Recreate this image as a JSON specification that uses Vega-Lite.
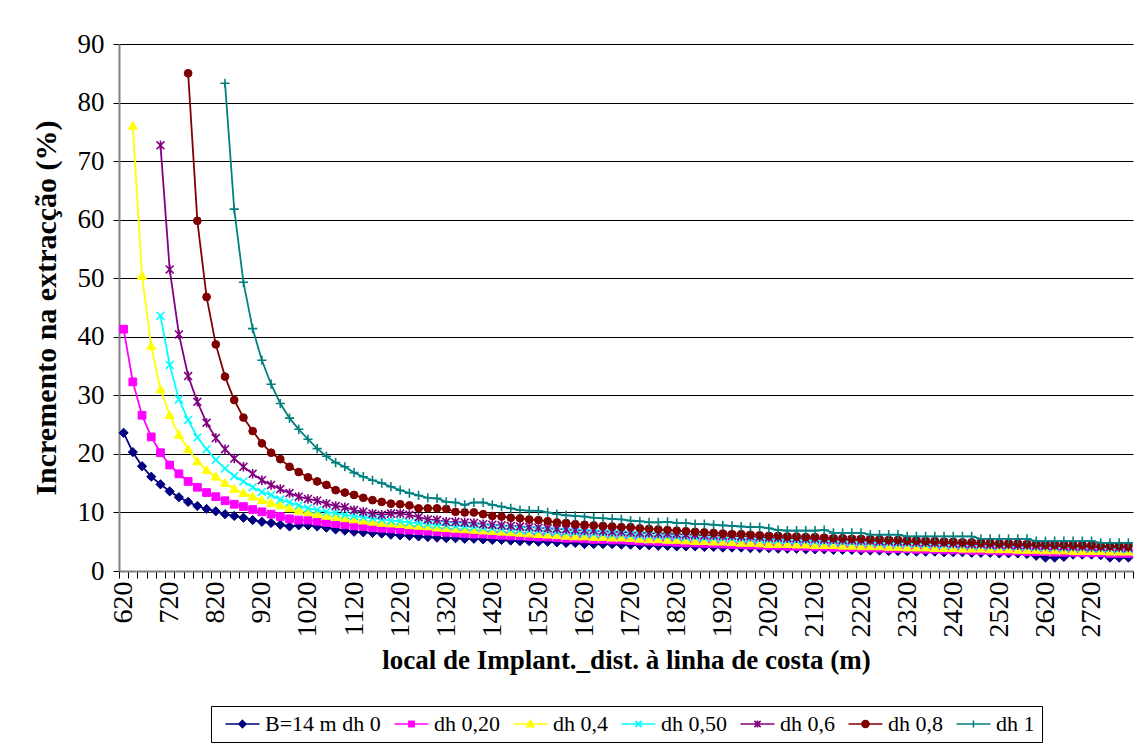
{
"$schema": "https://vega.github.io/schema/vega-lite/v6.json",
"width": 1014, "height": 527,
"autosize": "none",
"padding": {"left": 119, "top": 44, "right": 7, "bottom": 176},
"background": "white",
"config": {"view": {"stroke": null}, "font": "Liberation Serif",
  "axis": {"labelFont": "Liberation Serif", "titleFont": "Liberation Serif", "labelColor": "#000", "titleColor": "#000"},
  "legend": {"labelFont": "Liberation Serif"}},
"datasets": {"d": [
{"s":"B=14 m dh 0","x":620,"v":23.6},{"s":"B=14 m dh 0","x":640,"v":20.3},{"s":"B=14 m dh 0","x":660,"v":17.9},{"s":"B=14 m dh 0","x":680,"v":16.1},{"s":"B=14 m dh 0","x":700,"v":14.8},{"s":"B=14 m dh 0","x":720,"v":13.6},{"s":"B=14 m dh 0","x":740,"v":12.6},{"s":"B=14 m dh 0","x":760,"v":11.8},{"s":"B=14 m dh 0","x":780,"v":11.1},{"s":"B=14 m dh 0","x":800,"v":10.6},{"s":"B=14 m dh 0","x":820,"v":10.2},{"s":"B=14 m dh 0","x":840,"v":9.7},{"s":"B=14 m dh 0","x":860,"v":9.4},{"s":"B=14 m dh 0","x":880,"v":9.1},{"s":"B=14 m dh 0","x":900,"v":8.7},{"s":"B=14 m dh 0","x":920,"v":8.4},{"s":"B=14 m dh 0","x":940,"v":8.2},{"s":"B=14 m dh 0","x":960,"v":7.9},{"s":"B=14 m dh 0","x":980,"v":7.6},{"s":"B=14 m dh 0","x":1000,"v":7.8},{"s":"B=14 m dh 0","x":1020,"v":7.8},{"s":"B=14 m dh 0","x":1040,"v":7.6},{"s":"B=14 m dh 0","x":1060,"v":7.4},{"s":"B=14 m dh 0","x":1080,"v":7.1},{"s":"B=14 m dh 0","x":1100,"v":6.9},{"s":"B=14 m dh 0","x":1120,"v":6.7},{"s":"B=14 m dh 0","x":1140,"v":6.6},{"s":"B=14 m dh 0","x":1160,"v":6.5},{"s":"B=14 m dh 0","x":1180,"v":6.4},{"s":"B=14 m dh 0","x":1200,"v":6.2},{"s":"B=14 m dh 0","x":1220,"v":6.1},{"s":"B=14 m dh 0","x":1240,"v":6.0},{"s":"B=14 m dh 0","x":1260,"v":5.9},{"s":"B=14 m dh 0","x":1280,"v":5.8},{"s":"B=14 m dh 0","x":1300,"v":5.7},{"s":"B=14 m dh 0","x":1320,"v":5.6},{"s":"B=14 m dh 0","x":1340,"v":5.6},{"s":"B=14 m dh 0","x":1360,"v":5.5},{"s":"B=14 m dh 0","x":1380,"v":5.5},{"s":"B=14 m dh 0","x":1400,"v":5.4},{"s":"B=14 m dh 0","x":1420,"v":5.3},{"s":"B=14 m dh 0","x":1440,"v":5.3},{"s":"B=14 m dh 0","x":1460,"v":5.2},{"s":"B=14 m dh 0","x":1480,"v":5.1},{"s":"B=14 m dh 0","x":1500,"v":5.1},{"s":"B=14 m dh 0","x":1520,"v":5.0},{"s":"B=14 m dh 0","x":1540,"v":5.0},{"s":"B=14 m dh 0","x":1560,"v":4.9},{"s":"B=14 m dh 0","x":1580,"v":4.8},{"s":"B=14 m dh 0","x":1600,"v":4.8},{"s":"B=14 m dh 0","x":1620,"v":4.6},{"s":"B=14 m dh 0","x":1640,"v":4.6},{"s":"B=14 m dh 0","x":1660,"v":4.6},{"s":"B=14 m dh 0","x":1680,"v":4.6},{"s":"B=14 m dh 0","x":1700,"v":4.5},{"s":"B=14 m dh 0","x":1720,"v":4.5},{"s":"B=14 m dh 0","x":1740,"v":4.4},{"s":"B=14 m dh 0","x":1760,"v":4.4},{"s":"B=14 m dh 0","x":1780,"v":4.3},{"s":"B=14 m dh 0","x":1800,"v":4.3},{"s":"B=14 m dh 0","x":1820,"v":4.2},{"s":"B=14 m dh 0","x":1840,"v":4.2},{"s":"B=14 m dh 0","x":1860,"v":4.2},{"s":"B=14 m dh 0","x":1880,"v":4.1},{"s":"B=14 m dh 0","x":1900,"v":4.1},{"s":"B=14 m dh 0","x":1920,"v":4.0},{"s":"B=14 m dh 0","x":1940,"v":4.0},{"s":"B=14 m dh 0","x":1960,"v":4.0},{"s":"B=14 m dh 0","x":1980,"v":3.9},{"s":"B=14 m dh 0","x":2000,"v":3.9},{"s":"B=14 m dh 0","x":2020,"v":3.9},{"s":"B=14 m dh 0","x":2040,"v":3.8},{"s":"B=14 m dh 0","x":2060,"v":3.8},{"s":"B=14 m dh 0","x":2080,"v":3.8},{"s":"B=14 m dh 0","x":2100,"v":3.7},{"s":"B=14 m dh 0","x":2120,"v":3.7},{"s":"B=14 m dh 0","x":2140,"v":3.7},{"s":"B=14 m dh 0","x":2160,"v":3.6},{"s":"B=14 m dh 0","x":2180,"v":3.6},{"s":"B=14 m dh 0","x":2200,"v":3.6},{"s":"B=14 m dh 0","x":2220,"v":3.5},{"s":"B=14 m dh 0","x":2240,"v":3.5},{"s":"B=14 m dh 0","x":2260,"v":3.5},{"s":"B=14 m dh 0","x":2280,"v":3.4},{"s":"B=14 m dh 0","x":2300,"v":3.4},{"s":"B=14 m dh 0","x":2320,"v":3.4},{"s":"B=14 m dh 0","x":2340,"v":3.3},{"s":"B=14 m dh 0","x":2360,"v":3.3},{"s":"B=14 m dh 0","x":2380,"v":3.3},{"s":"B=14 m dh 0","x":2400,"v":3.2},{"s":"B=14 m dh 0","x":2420,"v":3.2},{"s":"B=14 m dh 0","x":2440,"v":3.2},{"s":"B=14 m dh 0","x":2460,"v":3.1},{"s":"B=14 m dh 0","x":2480,"v":3.1},{"s":"B=14 m dh 0","x":2500,"v":3.1},{"s":"B=14 m dh 0","x":2520,"v":3.0},{"s":"B=14 m dh 0","x":2540,"v":3.0},{"s":"B=14 m dh 0","x":2560,"v":3.0},{"s":"B=14 m dh 0","x":2580,"v":2.9},{"s":"B=14 m dh 0","x":2600,"v":2.6},{"s":"B=14 m dh 0","x":2620,"v":2.3},{"s":"B=14 m dh 0","x":2640,"v":2.3},{"s":"B=14 m dh 0","x":2660,"v":2.4},{"s":"B=14 m dh 0","x":2680,"v":2.8},{"s":"B=14 m dh 0","x":2700,"v":2.8},{"s":"B=14 m dh 0","x":2720,"v":2.8},{"s":"B=14 m dh 0","x":2740,"v":2.7},{"s":"B=14 m dh 0","x":2760,"v":2.3},{"s":"B=14 m dh 0","x":2780,"v":2.3},{"s":"B=14 m dh 0","x":2800,"v":2.3},
{"s":"dh 0,20","x":620,"v":41.3},{"s":"dh 0,20","x":640,"v":32.3},{"s":"dh 0,20","x":660,"v":26.6},{"s":"dh 0,20","x":680,"v":22.9},{"s":"dh 0,20","x":700,"v":20.2},{"s":"dh 0,20","x":720,"v":18.1},{"s":"dh 0,20","x":740,"v":16.6},{"s":"dh 0,20","x":760,"v":15.3},{"s":"dh 0,20","x":780,"v":14.3},{"s":"dh 0,20","x":800,"v":13.4},{"s":"dh 0,20","x":820,"v":12.7},{"s":"dh 0,20","x":840,"v":12.0},{"s":"dh 0,20","x":860,"v":11.4},{"s":"dh 0,20","x":880,"v":11.0},{"s":"dh 0,20","x":900,"v":10.5},{"s":"dh 0,20","x":920,"v":10.1},{"s":"dh 0,20","x":940,"v":9.7},{"s":"dh 0,20","x":960,"v":9.3},{"s":"dh 0,20","x":980,"v":8.9},{"s":"dh 0,20","x":1000,"v":8.7},{"s":"dh 0,20","x":1020,"v":8.7},{"s":"dh 0,20","x":1040,"v":8.5},{"s":"dh 0,20","x":1060,"v":8.3},{"s":"dh 0,20","x":1080,"v":8.1},{"s":"dh 0,20","x":1100,"v":7.9},{"s":"dh 0,20","x":1120,"v":7.7},{"s":"dh 0,20","x":1140,"v":7.6},{"s":"dh 0,20","x":1160,"v":7.4},{"s":"dh 0,20","x":1180,"v":7.3},{"s":"dh 0,20","x":1200,"v":7.2},{"s":"dh 0,20","x":1220,"v":7.1},{"s":"dh 0,20","x":1240,"v":7.0},{"s":"dh 0,20","x":1260,"v":6.9},{"s":"dh 0,20","x":1280,"v":6.8},{"s":"dh 0,20","x":1300,"v":6.7},{"s":"dh 0,20","x":1320,"v":6.6},{"s":"dh 0,20","x":1340,"v":6.5},{"s":"dh 0,20","x":1360,"v":6.4},{"s":"dh 0,20","x":1380,"v":6.3},{"s":"dh 0,20","x":1400,"v":6.3},{"s":"dh 0,20","x":1420,"v":6.2},{"s":"dh 0,20","x":1440,"v":6.1},{"s":"dh 0,20","x":1460,"v":6.0},{"s":"dh 0,20","x":1480,"v":6.0},{"s":"dh 0,20","x":1500,"v":5.9},{"s":"dh 0,20","x":1520,"v":5.8},{"s":"dh 0,20","x":1540,"v":5.8},{"s":"dh 0,20","x":1560,"v":5.7},{"s":"dh 0,20","x":1580,"v":5.6},{"s":"dh 0,20","x":1600,"v":5.6},{"s":"dh 0,20","x":1620,"v":5.5},{"s":"dh 0,20","x":1640,"v":5.4},{"s":"dh 0,20","x":1660,"v":5.4},{"s":"dh 0,20","x":1680,"v":5.3},{"s":"dh 0,20","x":1700,"v":5.3},{"s":"dh 0,20","x":1720,"v":5.2},{"s":"dh 0,20","x":1740,"v":5.1},{"s":"dh 0,20","x":1760,"v":5.1},{"s":"dh 0,20","x":1780,"v":5.0},{"s":"dh 0,20","x":1800,"v":5.0},{"s":"dh 0,20","x":1820,"v":4.9},{"s":"dh 0,20","x":1840,"v":4.8},{"s":"dh 0,20","x":1860,"v":4.8},{"s":"dh 0,20","x":1880,"v":4.7},{"s":"dh 0,20","x":1900,"v":4.7},{"s":"dh 0,20","x":1920,"v":4.6},{"s":"dh 0,20","x":1940,"v":4.5},{"s":"dh 0,20","x":1960,"v":4.5},{"s":"dh 0,20","x":1980,"v":4.4},{"s":"dh 0,20","x":2000,"v":4.4},{"s":"dh 0,20","x":2020,"v":4.3},{"s":"dh 0,20","x":2040,"v":4.3},{"s":"dh 0,20","x":2060,"v":4.2},{"s":"dh 0,20","x":2080,"v":4.2},{"s":"dh 0,20","x":2100,"v":4.2},{"s":"dh 0,20","x":2120,"v":4.1},{"s":"dh 0,20","x":2140,"v":4.1},{"s":"dh 0,20","x":2160,"v":4.0},{"s":"dh 0,20","x":2180,"v":4.0},{"s":"dh 0,20","x":2200,"v":4.0},{"s":"dh 0,20","x":2220,"v":3.9},{"s":"dh 0,20","x":2240,"v":3.9},{"s":"dh 0,20","x":2260,"v":3.9},{"s":"dh 0,20","x":2280,"v":3.8},{"s":"dh 0,20","x":2300,"v":3.8},{"s":"dh 0,20","x":2320,"v":3.8},{"s":"dh 0,20","x":2340,"v":3.7},{"s":"dh 0,20","x":2360,"v":3.7},{"s":"dh 0,20","x":2380,"v":3.7},{"s":"dh 0,20","x":2400,"v":3.6},{"s":"dh 0,20","x":2420,"v":3.6},{"s":"dh 0,20","x":2440,"v":3.6},{"s":"dh 0,20","x":2460,"v":3.5},{"s":"dh 0,20","x":2480,"v":3.5},{"s":"dh 0,20","x":2500,"v":3.5},{"s":"dh 0,20","x":2520,"v":3.4},{"s":"dh 0,20","x":2540,"v":3.4},{"s":"dh 0,20","x":2560,"v":3.4},{"s":"dh 0,20","x":2580,"v":3.3},{"s":"dh 0,20","x":2600,"v":3.3},{"s":"dh 0,20","x":2620,"v":3.3},{"s":"dh 0,20","x":2640,"v":3.2},{"s":"dh 0,20","x":2660,"v":3.2},{"s":"dh 0,20","x":2680,"v":3.2},{"s":"dh 0,20","x":2700,"v":3.1},{"s":"dh 0,20","x":2720,"v":3.1},{"s":"dh 0,20","x":2740,"v":3.1},{"s":"dh 0,20","x":2760,"v":3.0},{"s":"dh 0,20","x":2780,"v":3.0},{"s":"dh 0,20","x":2800,"v":3.0},
{"s":"dh 0,4","x":640,"v":76.0},{"s":"dh 0,4","x":660,"v":50.4},{"s":"dh 0,4","x":680,"v":38.4},{"s":"dh 0,4","x":700,"v":31.0},{"s":"dh 0,4","x":720,"v":26.6},{"s":"dh 0,4","x":740,"v":23.2},{"s":"dh 0,4","x":760,"v":20.8},{"s":"dh 0,4","x":780,"v":18.7},{"s":"dh 0,4","x":800,"v":17.2},{"s":"dh 0,4","x":820,"v":16.1},{"s":"dh 0,4","x":840,"v":15.0},{"s":"dh 0,4","x":860,"v":14.0},{"s":"dh 0,4","x":880,"v":13.3},{"s":"dh 0,4","x":900,"v":12.7},{"s":"dh 0,4","x":920,"v":12.1},{"s":"dh 0,4","x":940,"v":11.6},{"s":"dh 0,4","x":960,"v":11.2},{"s":"dh 0,4","x":980,"v":10.7},{"s":"dh 0,4","x":1000,"v":10.3},{"s":"dh 0,4","x":1020,"v":10.0},{"s":"dh 0,4","x":1040,"v":9.7},{"s":"dh 0,4","x":1060,"v":9.4},{"s":"dh 0,4","x":1080,"v":9.2},{"s":"dh 0,4","x":1100,"v":9.0},{"s":"dh 0,4","x":1120,"v":8.8},{"s":"dh 0,4","x":1140,"v":8.6},{"s":"dh 0,4","x":1160,"v":8.4},{"s":"dh 0,4","x":1180,"v":8.2},{"s":"dh 0,4","x":1200,"v":8.1},{"s":"dh 0,4","x":1220,"v":8.0},{"s":"dh 0,4","x":1240,"v":7.8},{"s":"dh 0,4","x":1260,"v":7.7},{"s":"dh 0,4","x":1280,"v":7.6},{"s":"dh 0,4","x":1300,"v":7.4},{"s":"dh 0,4","x":1320,"v":7.3},{"s":"dh 0,4","x":1340,"v":7.2},{"s":"dh 0,4","x":1360,"v":7.1},{"s":"dh 0,4","x":1380,"v":7.0},{"s":"dh 0,4","x":1400,"v":6.9},{"s":"dh 0,4","x":1420,"v":6.8},{"s":"dh 0,4","x":1440,"v":6.7},{"s":"dh 0,4","x":1460,"v":6.6},{"s":"dh 0,4","x":1480,"v":6.5},{"s":"dh 0,4","x":1500,"v":6.4},{"s":"dh 0,4","x":1520,"v":6.3},{"s":"dh 0,4","x":1540,"v":6.2},{"s":"dh 0,4","x":1560,"v":6.1},{"s":"dh 0,4","x":1580,"v":6.0},{"s":"dh 0,4","x":1600,"v":5.9},{"s":"dh 0,4","x":1620,"v":5.9},{"s":"dh 0,4","x":1640,"v":5.8},{"s":"dh 0,4","x":1660,"v":5.8},{"s":"dh 0,4","x":1680,"v":5.7},{"s":"dh 0,4","x":1700,"v":5.7},{"s":"dh 0,4","x":1720,"v":5.6},{"s":"dh 0,4","x":1740,"v":5.5},{"s":"dh 0,4","x":1760,"v":5.4},{"s":"dh 0,4","x":1780,"v":5.4},{"s":"dh 0,4","x":1800,"v":5.3},{"s":"dh 0,4","x":1820,"v":5.3},{"s":"dh 0,4","x":1840,"v":5.2},{"s":"dh 0,4","x":1860,"v":5.1},{"s":"dh 0,4","x":1880,"v":5.1},{"s":"dh 0,4","x":1900,"v":5.0},{"s":"dh 0,4","x":1920,"v":5.0},{"s":"dh 0,4","x":1940,"v":4.9},{"s":"dh 0,4","x":1960,"v":4.8},{"s":"dh 0,4","x":1980,"v":4.8},{"s":"dh 0,4","x":2000,"v":4.7},{"s":"dh 0,4","x":2020,"v":4.6},{"s":"dh 0,4","x":2040,"v":4.6},{"s":"dh 0,4","x":2060,"v":4.6},{"s":"dh 0,4","x":2080,"v":4.5},{"s":"dh 0,4","x":2100,"v":4.5},{"s":"dh 0,4","x":2120,"v":4.4},{"s":"dh 0,4","x":2140,"v":4.4},{"s":"dh 0,4","x":2160,"v":4.4},{"s":"dh 0,4","x":2180,"v":4.3},{"s":"dh 0,4","x":2200,"v":4.3},{"s":"dh 0,4","x":2220,"v":4.2},{"s":"dh 0,4","x":2240,"v":4.2},{"s":"dh 0,4","x":2260,"v":4.2},{"s":"dh 0,4","x":2280,"v":4.1},{"s":"dh 0,4","x":2300,"v":4.1},{"s":"dh 0,4","x":2320,"v":4.0},{"s":"dh 0,4","x":2340,"v":4.0},{"s":"dh 0,4","x":2360,"v":4.0},{"s":"dh 0,4","x":2380,"v":3.9},{"s":"dh 0,4","x":2400,"v":3.9},{"s":"dh 0,4","x":2420,"v":3.9},{"s":"dh 0,4","x":2440,"v":3.8},{"s":"dh 0,4","x":2460,"v":3.8},{"s":"dh 0,4","x":2480,"v":3.8},{"s":"dh 0,4","x":2500,"v":3.7},{"s":"dh 0,4","x":2520,"v":3.7},{"s":"dh 0,4","x":2540,"v":3.7},{"s":"dh 0,4","x":2560,"v":3.6},{"s":"dh 0,4","x":2580,"v":3.6},{"s":"dh 0,4","x":2600,"v":3.6},{"s":"dh 0,4","x":2620,"v":3.5},{"s":"dh 0,4","x":2640,"v":3.5},{"s":"dh 0,4","x":2660,"v":3.5},{"s":"dh 0,4","x":2680,"v":3.4},{"s":"dh 0,4","x":2700,"v":3.4},{"s":"dh 0,4","x":2720,"v":3.4},{"s":"dh 0,4","x":2740,"v":3.4},{"s":"dh 0,4","x":2760,"v":3.3},{"s":"dh 0,4","x":2780,"v":3.3},{"s":"dh 0,4","x":2800,"v":3.3},
{"s":"dh 0,50","x":700,"v":43.6},{"s":"dh 0,50","x":720,"v":35.2},{"s":"dh 0,50","x":740,"v":29.3},{"s":"dh 0,50","x":760,"v":25.8},{"s":"dh 0,50","x":780,"v":22.8},{"s":"dh 0,50","x":800,"v":20.8},{"s":"dh 0,50","x":820,"v":19.0},{"s":"dh 0,50","x":840,"v":17.5},{"s":"dh 0,50","x":860,"v":16.2},{"s":"dh 0,50","x":880,"v":15.3},{"s":"dh 0,50","x":900,"v":14.3},{"s":"dh 0,50","x":920,"v":13.5},{"s":"dh 0,50","x":940,"v":13.0},{"s":"dh 0,50","x":960,"v":12.2},{"s":"dh 0,50","x":980,"v":11.7},{"s":"dh 0,50","x":1000,"v":11.2},{"s":"dh 0,50","x":1020,"v":10.7},{"s":"dh 0,50","x":1040,"v":10.4},{"s":"dh 0,50","x":1060,"v":10.1},{"s":"dh 0,50","x":1080,"v":9.9},{"s":"dh 0,50","x":1100,"v":9.6},{"s":"dh 0,50","x":1120,"v":9.4},{"s":"dh 0,50","x":1140,"v":9.2},{"s":"dh 0,50","x":1160,"v":9.0},{"s":"dh 0,50","x":1180,"v":8.8},{"s":"dh 0,50","x":1200,"v":8.6},{"s":"dh 0,50","x":1220,"v":8.5},{"s":"dh 0,50","x":1240,"v":8.3},{"s":"dh 0,50","x":1260,"v":8.2},{"s":"dh 0,50","x":1280,"v":8.0},{"s":"dh 0,50","x":1300,"v":7.9},{"s":"dh 0,50","x":1320,"v":7.8},{"s":"dh 0,50","x":1340,"v":7.7},{"s":"dh 0,50","x":1360,"v":7.6},{"s":"dh 0,50","x":1380,"v":7.5},{"s":"dh 0,50","x":1400,"v":7.4},{"s":"dh 0,50","x":1420,"v":7.3},{"s":"dh 0,50","x":1440,"v":7.2},{"s":"dh 0,50","x":1460,"v":7.1},{"s":"dh 0,50","x":1480,"v":7.0},{"s":"dh 0,50","x":1500,"v":6.9},{"s":"dh 0,50","x":1520,"v":6.9},{"s":"dh 0,50","x":1540,"v":6.8},{"s":"dh 0,50","x":1560,"v":6.7},{"s":"dh 0,50","x":1580,"v":6.6},{"s":"dh 0,50","x":1600,"v":6.6},{"s":"dh 0,50","x":1620,"v":6.5},{"s":"dh 0,50","x":1640,"v":6.4},{"s":"dh 0,50","x":1660,"v":6.4},{"s":"dh 0,50","x":1680,"v":6.3},{"s":"dh 0,50","x":1700,"v":6.3},{"s":"dh 0,50","x":1720,"v":6.2},{"s":"dh 0,50","x":1740,"v":6.1},{"s":"dh 0,50","x":1760,"v":6.1},{"s":"dh 0,50","x":1780,"v":6.0},{"s":"dh 0,50","x":1800,"v":6.0},{"s":"dh 0,50","x":1820,"v":5.9},{"s":"dh 0,50","x":1840,"v":5.8},{"s":"dh 0,50","x":1860,"v":5.8},{"s":"dh 0,50","x":1880,"v":5.7},{"s":"dh 0,50","x":1900,"v":5.7},{"s":"dh 0,50","x":1920,"v":5.6},{"s":"dh 0,50","x":1940,"v":5.6},{"s":"dh 0,50","x":1960,"v":5.5},{"s":"dh 0,50","x":1980,"v":5.5},{"s":"dh 0,50","x":2000,"v":5.4},{"s":"dh 0,50","x":2020,"v":5.4},{"s":"dh 0,50","x":2040,"v":5.3},{"s":"dh 0,50","x":2060,"v":5.3},{"s":"dh 0,50","x":2080,"v":5.2},{"s":"dh 0,50","x":2100,"v":5.2},{"s":"dh 0,50","x":2120,"v":5.1},{"s":"dh 0,50","x":2140,"v":5.1},{"s":"dh 0,50","x":2160,"v":5.0},{"s":"dh 0,50","x":2180,"v":5.0},{"s":"dh 0,50","x":2200,"v":4.9},{"s":"dh 0,50","x":2220,"v":4.9},{"s":"dh 0,50","x":2240,"v":4.9},{"s":"dh 0,50","x":2260,"v":4.8},{"s":"dh 0,50","x":2280,"v":4.8},{"s":"dh 0,50","x":2300,"v":4.7},{"s":"dh 0,50","x":2320,"v":4.7},{"s":"dh 0,50","x":2340,"v":4.7},{"s":"dh 0,50","x":2360,"v":4.6},{"s":"dh 0,50","x":2380,"v":4.6},{"s":"dh 0,50","x":2400,"v":4.5},{"s":"dh 0,50","x":2420,"v":4.5},{"s":"dh 0,50","x":2440,"v":4.5},{"s":"dh 0,50","x":2460,"v":4.4},{"s":"dh 0,50","x":2480,"v":4.4},{"s":"dh 0,50","x":2500,"v":4.3},{"s":"dh 0,50","x":2520,"v":4.3},{"s":"dh 0,50","x":2540,"v":4.3},{"s":"dh 0,50","x":2560,"v":4.2},{"s":"dh 0,50","x":2580,"v":4.2},{"s":"dh 0,50","x":2600,"v":4.1},{"s":"dh 0,50","x":2620,"v":4.1},{"s":"dh 0,50","x":2640,"v":4.1},{"s":"dh 0,50","x":2660,"v":4.0},{"s":"dh 0,50","x":2680,"v":4.0},{"s":"dh 0,50","x":2700,"v":4.0},{"s":"dh 0,50","x":2720,"v":3.9},{"s":"dh 0,50","x":2740,"v":3.9},{"s":"dh 0,50","x":2760,"v":3.9},{"s":"dh 0,50","x":2780,"v":3.8},{"s":"dh 0,50","x":2800,"v":3.8},
{"s":"dh 0,6","x":700,"v":72.7},{"s":"dh 0,6","x":720,"v":51.5},{"s":"dh 0,6","x":740,"v":40.4},{"s":"dh 0,6","x":760,"v":33.3},{"s":"dh 0,6","x":780,"v":28.9},{"s":"dh 0,6","x":800,"v":25.3},{"s":"dh 0,6","x":820,"v":22.7},{"s":"dh 0,6","x":840,"v":20.8},{"s":"dh 0,6","x":860,"v":19.2},{"s":"dh 0,6","x":880,"v":17.8},{"s":"dh 0,6","x":900,"v":16.6},{"s":"dh 0,6","x":920,"v":15.5},{"s":"dh 0,6","x":940,"v":14.7},{"s":"dh 0,6","x":960,"v":14.0},{"s":"dh 0,6","x":980,"v":13.3},{"s":"dh 0,6","x":1000,"v":12.7},{"s":"dh 0,6","x":1020,"v":12.3},{"s":"dh 0,6","x":1040,"v":12.0},{"s":"dh 0,6","x":1060,"v":11.5},{"s":"dh 0,6","x":1080,"v":11.1},{"s":"dh 0,6","x":1100,"v":10.9},{"s":"dh 0,6","x":1120,"v":10.4},{"s":"dh 0,6","x":1140,"v":10.1},{"s":"dh 0,6","x":1160,"v":9.8},{"s":"dh 0,6","x":1180,"v":9.6},{"s":"dh 0,6","x":1200,"v":9.8},{"s":"dh 0,6","x":1220,"v":9.8},{"s":"dh 0,6","x":1240,"v":9.6},{"s":"dh 0,6","x":1260,"v":9.2},{"s":"dh 0,6","x":1280,"v":8.8},{"s":"dh 0,6","x":1300,"v":8.7},{"s":"dh 0,6","x":1320,"v":8.4},{"s":"dh 0,6","x":1340,"v":8.4},{"s":"dh 0,6","x":1360,"v":8.3},{"s":"dh 0,6","x":1380,"v":8.2},{"s":"dh 0,6","x":1400,"v":8.0},{"s":"dh 0,6","x":1420,"v":7.9},{"s":"dh 0,6","x":1440,"v":7.8},{"s":"dh 0,6","x":1460,"v":7.7},{"s":"dh 0,6","x":1480,"v":7.6},{"s":"dh 0,6","x":1500,"v":7.5},{"s":"dh 0,6","x":1520,"v":7.4},{"s":"dh 0,6","x":1540,"v":7.3},{"s":"dh 0,6","x":1560,"v":7.2},{"s":"dh 0,6","x":1580,"v":7.1},{"s":"dh 0,6","x":1600,"v":7.0},{"s":"dh 0,6","x":1620,"v":6.9},{"s":"dh 0,6","x":1640,"v":6.9},{"s":"dh 0,6","x":1660,"v":6.8},{"s":"dh 0,6","x":1680,"v":6.7},{"s":"dh 0,6","x":1700,"v":6.7},{"s":"dh 0,6","x":1720,"v":6.6},{"s":"dh 0,6","x":1740,"v":6.5},{"s":"dh 0,6","x":1760,"v":6.5},{"s":"dh 0,6","x":1780,"v":6.4},{"s":"dh 0,6","x":1800,"v":6.4},{"s":"dh 0,6","x":1820,"v":6.3},{"s":"dh 0,6","x":1840,"v":6.2},{"s":"dh 0,6","x":1860,"v":6.2},{"s":"dh 0,6","x":1880,"v":6.1},{"s":"dh 0,6","x":1900,"v":6.1},{"s":"dh 0,6","x":1920,"v":6.0},{"s":"dh 0,6","x":1940,"v":6.0},{"s":"dh 0,6","x":1960,"v":5.9},{"s":"dh 0,6","x":1980,"v":5.9},{"s":"dh 0,6","x":2000,"v":5.8},{"s":"dh 0,6","x":2020,"v":5.7},{"s":"dh 0,6","x":2040,"v":5.7},{"s":"dh 0,6","x":2060,"v":5.6},{"s":"dh 0,6","x":2080,"v":5.6},{"s":"dh 0,6","x":2100,"v":5.5},{"s":"dh 0,6","x":2120,"v":5.5},{"s":"dh 0,6","x":2140,"v":5.4},{"s":"dh 0,6","x":2160,"v":5.4},{"s":"dh 0,6","x":2180,"v":5.3},{"s":"dh 0,6","x":2200,"v":5.3},{"s":"dh 0,6","x":2220,"v":5.2},{"s":"dh 0,6","x":2240,"v":5.2},{"s":"dh 0,6","x":2260,"v":5.1},{"s":"dh 0,6","x":2280,"v":5.1},{"s":"dh 0,6","x":2300,"v":5.0},{"s":"dh 0,6","x":2320,"v":5.0},{"s":"dh 0,6","x":2340,"v":4.9},{"s":"dh 0,6","x":2360,"v":4.9},{"s":"dh 0,6","x":2380,"v":4.8},{"s":"dh 0,6","x":2400,"v":4.8},{"s":"dh 0,6","x":2420,"v":4.7},{"s":"dh 0,6","x":2440,"v":4.7},{"s":"dh 0,6","x":2460,"v":4.6},{"s":"dh 0,6","x":2480,"v":4.6},{"s":"dh 0,6","x":2500,"v":4.5},{"s":"dh 0,6","x":2520,"v":4.5},{"s":"dh 0,6","x":2540,"v":4.5},{"s":"dh 0,6","x":2560,"v":4.4},{"s":"dh 0,6","x":2580,"v":4.4},{"s":"dh 0,6","x":2600,"v":4.3},{"s":"dh 0,6","x":2620,"v":4.3},{"s":"dh 0,6","x":2640,"v":4.3},{"s":"dh 0,6","x":2660,"v":4.2},{"s":"dh 0,6","x":2680,"v":4.2},{"s":"dh 0,6","x":2700,"v":4.2},{"s":"dh 0,6","x":2720,"v":4.1},{"s":"dh 0,6","x":2740,"v":4.1},{"s":"dh 0,6","x":2760,"v":4.1},{"s":"dh 0,6","x":2780,"v":4.0},{"s":"dh 0,6","x":2800,"v":4.0},
{"s":"dh 0,8","x":760,"v":85.0},{"s":"dh 0,8","x":780,"v":59.8},{"s":"dh 0,8","x":800,"v":46.8},{"s":"dh 0,8","x":820,"v":38.7},{"s":"dh 0,8","x":840,"v":33.2},{"s":"dh 0,8","x":860,"v":29.2},{"s":"dh 0,8","x":880,"v":26.2},{"s":"dh 0,8","x":900,"v":23.9},{"s":"dh 0,8","x":920,"v":21.8},{"s":"dh 0,8","x":940,"v":20.2},{"s":"dh 0,8","x":960,"v":19.1},{"s":"dh 0,8","x":980,"v":17.8},{"s":"dh 0,8","x":1000,"v":16.9},{"s":"dh 0,8","x":1020,"v":16.0},{"s":"dh 0,8","x":1040,"v":15.3},{"s":"dh 0,8","x":1060,"v":14.7},{"s":"dh 0,8","x":1080,"v":13.8},{"s":"dh 0,8","x":1100,"v":13.4},{"s":"dh 0,8","x":1120,"v":13.0},{"s":"dh 0,8","x":1140,"v":12.5},{"s":"dh 0,8","x":1160,"v":12.1},{"s":"dh 0,8","x":1180,"v":11.8},{"s":"dh 0,8","x":1200,"v":11.5},{"s":"dh 0,8","x":1220,"v":11.4},{"s":"dh 0,8","x":1240,"v":11.2},{"s":"dh 0,8","x":1260,"v":10.7},{"s":"dh 0,8","x":1280,"v":10.7},{"s":"dh 0,8","x":1300,"v":10.7},{"s":"dh 0,8","x":1320,"v":10.6},{"s":"dh 0,8","x":1340,"v":10.1},{"s":"dh 0,8","x":1360,"v":10.0},{"s":"dh 0,8","x":1380,"v":10.0},{"s":"dh 0,8","x":1400,"v":9.7},{"s":"dh 0,8","x":1420,"v":9.4},{"s":"dh 0,8","x":1440,"v":9.3},{"s":"dh 0,8","x":1460,"v":9.1},{"s":"dh 0,8","x":1480,"v":9.0},{"s":"dh 0,8","x":1500,"v":8.8},{"s":"dh 0,8","x":1520,"v":8.7},{"s":"dh 0,8","x":1540,"v":8.5},{"s":"dh 0,8","x":1560,"v":8.3},{"s":"dh 0,8","x":1580,"v":8.2},{"s":"dh 0,8","x":1600,"v":8.0},{"s":"dh 0,8","x":1620,"v":7.9},{"s":"dh 0,8","x":1640,"v":7.8},{"s":"dh 0,8","x":1660,"v":7.7},{"s":"dh 0,8","x":1680,"v":7.6},{"s":"dh 0,8","x":1700,"v":7.5},{"s":"dh 0,8","x":1720,"v":7.5},{"s":"dh 0,8","x":1740,"v":7.3},{"s":"dh 0,8","x":1760,"v":7.2},{"s":"dh 0,8","x":1780,"v":7.1},{"s":"dh 0,8","x":1800,"v":7.0},{"s":"dh 0,8","x":1820,"v":6.9},{"s":"dh 0,8","x":1840,"v":6.8},{"s":"dh 0,8","x":1860,"v":6.7},{"s":"dh 0,8","x":1880,"v":6.6},{"s":"dh 0,8","x":1900,"v":6.5},{"s":"dh 0,8","x":1920,"v":6.4},{"s":"dh 0,8","x":1940,"v":6.3},{"s":"dh 0,8","x":1960,"v":6.3},{"s":"dh 0,8","x":1980,"v":6.2},{"s":"dh 0,8","x":2000,"v":6.1},{"s":"dh 0,8","x":2020,"v":6.0},{"s":"dh 0,8","x":2040,"v":6.0},{"s":"dh 0,8","x":2060,"v":5.9},{"s":"dh 0,8","x":2080,"v":5.9},{"s":"dh 0,8","x":2100,"v":5.8},{"s":"dh 0,8","x":2120,"v":5.8},{"s":"dh 0,8","x":2140,"v":5.7},{"s":"dh 0,8","x":2160,"v":5.6},{"s":"dh 0,8","x":2180,"v":5.6},{"s":"dh 0,8","x":2200,"v":5.5},{"s":"dh 0,8","x":2220,"v":5.5},{"s":"dh 0,8","x":2240,"v":5.4},{"s":"dh 0,8","x":2260,"v":5.4},{"s":"dh 0,8","x":2280,"v":5.3},{"s":"dh 0,8","x":2300,"v":5.3},{"s":"dh 0,8","x":2320,"v":5.2},{"s":"dh 0,8","x":2340,"v":5.2},{"s":"dh 0,8","x":2360,"v":5.1},{"s":"dh 0,8","x":2380,"v":5.1},{"s":"dh 0,8","x":2400,"v":5.0},{"s":"dh 0,8","x":2420,"v":5.0},{"s":"dh 0,8","x":2440,"v":4.9},{"s":"dh 0,8","x":2460,"v":4.9},{"s":"dh 0,8","x":2480,"v":4.8},{"s":"dh 0,8","x":2500,"v":4.8},{"s":"dh 0,8","x":2520,"v":4.7},{"s":"dh 0,8","x":2540,"v":4.7},{"s":"dh 0,8","x":2560,"v":4.7},{"s":"dh 0,8","x":2580,"v":4.6},{"s":"dh 0,8","x":2600,"v":4.6},{"s":"dh 0,8","x":2620,"v":4.5},{"s":"dh 0,8","x":2640,"v":4.5},{"s":"dh 0,8","x":2660,"v":4.5},{"s":"dh 0,8","x":2680,"v":4.4},{"s":"dh 0,8","x":2700,"v":4.4},{"s":"dh 0,8","x":2720,"v":4.4},{"s":"dh 0,8","x":2740,"v":4.3},{"s":"dh 0,8","x":2760,"v":4.3},{"s":"dh 0,8","x":2780,"v":4.3},{"s":"dh 0,8","x":2800,"v":4.2},
{"s":"dh 1","x":840,"v":83.3},{"s":"dh 1","x":860,"v":61.8},{"s":"dh 1","x":880,"v":49.3},{"s":"dh 1","x":900,"v":41.4},{"s":"dh 1","x":920,"v":36.0},{"s":"dh 1","x":940,"v":31.9},{"s":"dh 1","x":960,"v":28.6},{"s":"dh 1","x":980,"v":26.1},{"s":"dh 1","x":1000,"v":24.2},{"s":"dh 1","x":1020,"v":22.5},{"s":"dh 1","x":1040,"v":20.9},{"s":"dh 1","x":1060,"v":19.6},{"s":"dh 1","x":1080,"v":18.5},{"s":"dh 1","x":1100,"v":17.8},{"s":"dh 1","x":1120,"v":16.8},{"s":"dh 1","x":1140,"v":16.1},{"s":"dh 1","x":1160,"v":15.5},{"s":"dh 1","x":1180,"v":15.0},{"s":"dh 1","x":1200,"v":14.4},{"s":"dh 1","x":1220,"v":13.8},{"s":"dh 1","x":1240,"v":13.3},{"s":"dh 1","x":1260,"v":12.9},{"s":"dh 1","x":1280,"v":12.5},{"s":"dh 1","x":1300,"v":12.4},{"s":"dh 1","x":1320,"v":11.8},{"s":"dh 1","x":1340,"v":11.7},{"s":"dh 1","x":1360,"v":11.3},{"s":"dh 1","x":1380,"v":11.7},{"s":"dh 1","x":1400,"v":11.7},{"s":"dh 1","x":1420,"v":11.3},{"s":"dh 1","x":1440,"v":11.0},{"s":"dh 1","x":1460,"v":10.7},{"s":"dh 1","x":1480,"v":10.4},{"s":"dh 1","x":1500,"v":10.3},{"s":"dh 1","x":1520,"v":10.3},{"s":"dh 1","x":1540,"v":10.0},{"s":"dh 1","x":1560,"v":9.7},{"s":"dh 1","x":1580,"v":9.5},{"s":"dh 1","x":1600,"v":9.4},{"s":"dh 1","x":1620,"v":9.3},{"s":"dh 1","x":1640,"v":9.1},{"s":"dh 1","x":1660,"v":9.0},{"s":"dh 1","x":1680,"v":8.9},{"s":"dh 1","x":1700,"v":8.8},{"s":"dh 1","x":1720,"v":8.6},{"s":"dh 1","x":1740,"v":8.5},{"s":"dh 1","x":1760,"v":8.3},{"s":"dh 1","x":1780,"v":8.3},{"s":"dh 1","x":1800,"v":8.4},{"s":"dh 1","x":1820,"v":8.2},{"s":"dh 1","x":1840,"v":8.2},{"s":"dh 1","x":1860,"v":8.0},{"s":"dh 1","x":1880,"v":8.0},{"s":"dh 1","x":1900,"v":7.9},{"s":"dh 1","x":1920,"v":7.8},{"s":"dh 1","x":1940,"v":7.7},{"s":"dh 1","x":1960,"v":7.6},{"s":"dh 1","x":1980,"v":7.5},{"s":"dh 1","x":2000,"v":7.5},{"s":"dh 1","x":2020,"v":7.3},{"s":"dh 1","x":2040,"v":7.0},{"s":"dh 1","x":2060,"v":6.9},{"s":"dh 1","x":2080,"v":6.9},{"s":"dh 1","x":2100,"v":6.9},{"s":"dh 1","x":2120,"v":6.9},{"s":"dh 1","x":2140,"v":7.0},{"s":"dh 1","x":2160,"v":6.5},{"s":"dh 1","x":2180,"v":6.5},{"s":"dh 1","x":2200,"v":6.5},{"s":"dh 1","x":2220,"v":6.5},{"s":"dh 1","x":2240,"v":6.2},{"s":"dh 1","x":2260,"v":6.2},{"s":"dh 1","x":2280,"v":6.2},{"s":"dh 1","x":2300,"v":6.2},{"s":"dh 1","x":2320,"v":5.9},{"s":"dh 1","x":2340,"v":5.9},{"s":"dh 1","x":2360,"v":5.9},{"s":"dh 1","x":2380,"v":5.9},{"s":"dh 1","x":2400,"v":5.9},{"s":"dh 1","x":2420,"v":5.9},{"s":"dh 1","x":2440,"v":5.9},{"s":"dh 1","x":2460,"v":5.9},{"s":"dh 1","x":2480,"v":5.5},{"s":"dh 1","x":2500,"v":5.5},{"s":"dh 1","x":2520,"v":5.5},{"s":"dh 1","x":2540,"v":5.5},{"s":"dh 1","x":2560,"v":5.5},{"s":"dh 1","x":2580,"v":5.5},{"s":"dh 1","x":2600,"v":5.1},{"s":"dh 1","x":2620,"v":5.1},{"s":"dh 1","x":2640,"v":5.1},{"s":"dh 1","x":2660,"v":5.1},{"s":"dh 1","x":2680,"v":5.1},{"s":"dh 1","x":2700,"v":5.1},{"s":"dh 1","x":2720,"v":5.1},{"s":"dh 1","x":2740,"v":4.8},{"s":"dh 1","x":2760,"v":4.8},{"s":"dh 1","x":2780,"v":4.8},{"s":"dh 1","x":2800,"v":4.8}
]},
"data": {"name": "d"},
"encoding": {
  "x": {"field": "x", "type": "ordinal", "scale": {"type": "band", "paddingInner": 0, "paddingOuter": 0},
    "axis": {"tickBand": "extent", "labelExpr": "datum.value % 100 == 20 ? datum.label : ''", "labelAngle": -90, "labelOverlap": false, "labelFont": "Liberation Serif", "labelFontSize": 28, "labelPadding": 3, "tickSize": 7, "tickColor": "#000", "domainColor": "#808080", "domainWidth": 2, "grid": false,
      "title": "local de Implant._dist. à linha de costa (m)", "titleFont": "Liberation Serif", "titleFontSize": 27, "titleFontWeight": "bold", "titlePadding": 10}},
  "y": {"field": "v", "type": "quantitative", "scale": {"domain": [0, 90], "nice": false},
    "axis": {"values": [0,10,20,30,40,50,60,70,80,90], "grid": true, "gridColor": "#000", "gridWidth": 1, "gridOpacity": 1, "domainColor": "#808080", "domainWidth": 2, "tickColor": "#000", "tickSize": 6, "labelFont": "Liberation Serif", "labelFontSize": 27, "labelPadding": 9,
      "title": "Incremento na extracção (%)", "titleFont": "Liberation Serif", "titleFontSize": 30, "titleFontWeight": "bold", "titlePadding": 16}}
},
"layer": [
  {"mark": {"type": "line", "strokeWidth": 1.8},
   "encoding": {
     "stroke": {"field": "s", "type": "nominal",
       "scale": {"domain": ["B=14 m dh 0","dh 0,20","dh 0,4","dh 0,50","dh 0,6","dh 0,8","dh 1"], "range": ["#000080","#FF00FF","#FFFF00","#00FFFF","#800080","#800000","#008080"]},
       "legend": {"title": null, "orient": "none", "legendX": 92, "legendY": 662, "direction": "horizontal", "columns": 7, "strokeColor": "#000", "padding": 7, "labelFont": "Liberation Serif", "labelFontSize": 22, "labelColor": "#000", "labelLimit": 0, "symbolSize": 49, "labelOffset": 25, "columnPadding": 6,
         "encode": {"symbols": {"update": {
           "shape": {"signal": "datum.value == 'B=14 m dh 0' ? 'M-1,0L8.7,0M3.85,-1L4.85,0L3.85,1L2.85,0Z' : datum.value == 'dh 0,20' ? 'M-1,0L8.7,0M3.1,-0.75L4.6,-0.75L4.6,0.75L3.1,0.75Z' : datum.value == 'dh 0,4' ? 'M-1,0L8.7,0M3.85,-1L4.85,0.8L2.85,0.8Z' : datum.value == 'dh 0,50' ? 'M-1,0L8.7,0M2.95,-0.9L4.75,0.9M2.95,0.9L4.75,-0.9' : datum.value == 'dh 0,6' ? 'M-1,0L8.7,0M2.95,-0.9L4.75,0.9M2.95,0.9L4.75,-0.9M3.85,-1L3.85,1' : datum.value == 'dh 0,8' ? 'M-1,0L8.7,0M4.85,0A1,1,0,1,1,2.85,0A1,1,0,1,1,4.85,0Z' : 'M-1,0L8.7,0M2.85,0L4.85,0M3.85,-1L3.85,1'"},
           "fill": {"scale": "stroke", "field": "value"},
           "size": {"value": 49},
           "strokeWidth": {"value": 1.6},
           "opacity": {"value": 1}
         }}}}}
   }},
  {"transform": [{"filter": "datum.s == 'B=14 m dh 0'"}], "mark": {"type": "point", "shape": "M0,-1.1L1.1,0L0,1.1L-1.1,0Z", "fill": "#000080", "stroke": "#000080", "strokeWidth": 1, "size": 70, "opacity": 1}},
  {"transform": [{"filter": "datum.s == 'dh 0,20'"}], "mark": {"type": "point", "shape": "square", "fill": "#FF00FF", "stroke": "#FF00FF", "strokeWidth": 1, "size": 60, "opacity": 1}},
  {"transform": [{"filter": "datum.s == 'dh 0,4'"}], "mark": {"type": "point", "shape": "M0,-1.1L1.1,0.8L-1.1,0.8Z", "fill": "#FFFF00", "stroke": "#FFFF00", "strokeWidth": 1, "size": 70, "opacity": 1}},
  {"transform": [{"filter": "datum.s == 'dh 0,50'"}], "mark": {"type": "point", "shape": "M-1,-1L1,1M-1,1L1,-1", "fill": "transparent", "stroke": "#00FFFF", "strokeWidth": 1.6, "size": 62, "opacity": 1}},
  {"transform": [{"filter": "datum.s == 'dh 0,6'"}], "mark": {"type": "point", "shape": "M-1,-1L1,1M-1,1L1,-1M0,-1.2L0,1.2", "fill": "transparent", "stroke": "#800080", "strokeWidth": 1.6, "size": 62, "opacity": 1}},
  {"transform": [{"filter": "datum.s == 'dh 0,8'"}], "mark": {"type": "point", "shape": "circle", "fill": "#800000", "stroke": "#800000", "strokeWidth": 1, "size": 60, "opacity": 1}},
  {"transform": [{"filter": "datum.s == 'dh 1'"}], "mark": {"type": "point", "shape": "M-1.1,0L1.1,0M0,-1.1L0,1.1", "fill": "transparent", "stroke": "#008080", "strokeWidth": 1.6, "size": 70, "opacity": 1}}
]
}
